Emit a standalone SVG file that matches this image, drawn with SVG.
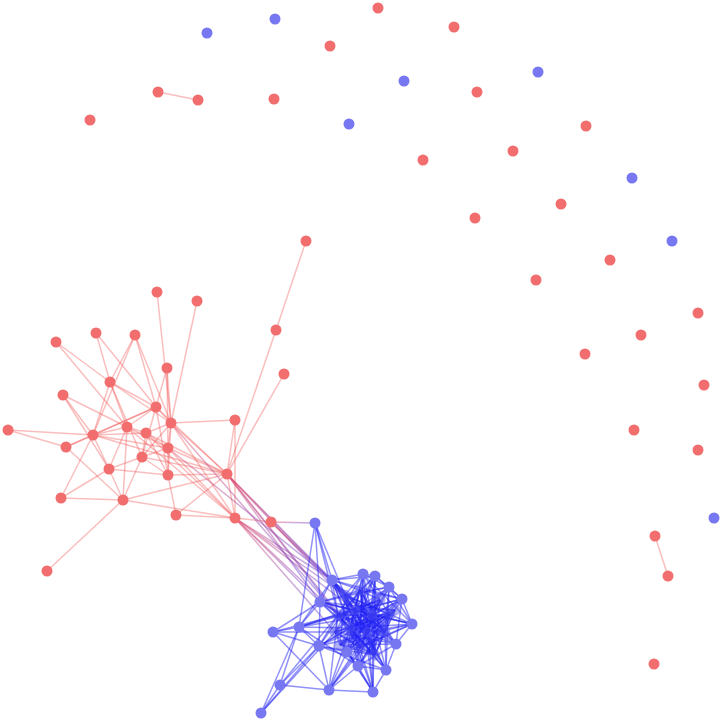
<svg xmlns="http://www.w3.org/2000/svg" width="722" height="722" viewBox="0 0 722 722">
<style>
.r{fill:#f26e6e}
.b{fill:#7777f2}
.b .bi circle{fill:#5050ee;fill-opacity:.45}
.er line{stroke:#f24c4c;stroke-opacity:.36;stroke-width:1.5}
.eb line{stroke:#2323f5;stroke-opacity:.5;stroke-width:1.5}
.ep line{stroke:url(#rb);stroke-opacity:.45;stroke-width:1.5}
</style>
<defs>
<linearGradient id="rb" x1="0" y1="0" x2="1" y2="1">
<stop offset="0" stop-color="#e04a6a"/>
<stop offset="1" stop-color="#5a3adc"/>
</linearGradient>
</defs>
<rect width="722" height="722" fill="#fff"/>
<g id="connectors">
<g class="er">
<line x1="158" y1="92" x2="198" y2="100"/>
<line x1="655" y1="536" x2="668" y2="576"/>
<line x1="157" y1="292" x2="171" y2="423"/>
<line x1="197" y1="301" x2="171" y2="423"/>
<line x1="96" y1="333" x2="110" y2="382"/>
<line x1="96" y1="333" x2="156" y2="407"/>
<line x1="135" y1="335" x2="110" y2="382"/>
<line x1="135" y1="335" x2="156" y2="407"/>
<line x1="135" y1="335" x2="171" y2="423"/>
<line x1="135" y1="335" x2="93" y2="435"/>
<line x1="56" y1="342" x2="110" y2="382"/>
<line x1="56" y1="342" x2="127" y2="427"/>
<line x1="306" y1="241" x2="276" y2="330"/>
<line x1="276" y1="330" x2="227" y2="474"/>
<line x1="284" y1="374" x2="227" y2="474"/>
<line x1="167" y1="368" x2="171" y2="423"/>
<line x1="167" y1="368" x2="156" y2="407"/>
<line x1="167" y1="368" x2="168" y2="448"/>
<line x1="110" y1="382" x2="127" y2="427"/>
<line x1="110" y1="382" x2="93" y2="435"/>
<line x1="110" y1="382" x2="156" y2="407"/>
<line x1="110" y1="382" x2="142" y2="457"/>
<line x1="110" y1="382" x2="171" y2="423"/>
<line x1="63" y1="395" x2="127" y2="427"/>
<line x1="63" y1="395" x2="93" y2="435"/>
<line x1="63" y1="395" x2="109" y2="469"/>
<line x1="156" y1="407" x2="171" y2="423"/>
<line x1="156" y1="407" x2="127" y2="427"/>
<line x1="156" y1="407" x2="93" y2="435"/>
<line x1="156" y1="407" x2="142" y2="457"/>
<line x1="156" y1="407" x2="168" y2="475"/>
<line x1="156" y1="407" x2="227" y2="474"/>
<line x1="156" y1="407" x2="66" y2="447"/>
<line x1="171" y1="423" x2="235" y2="420"/>
<line x1="171" y1="423" x2="168" y2="448"/>
<line x1="171" y1="423" x2="227" y2="474"/>
<line x1="171" y1="423" x2="235" y2="518"/>
<line x1="171" y1="423" x2="168" y2="475"/>
<line x1="171" y1="423" x2="146" y2="433"/>
<line x1="171" y1="423" x2="142" y2="457"/>
<line x1="235" y1="420" x2="227" y2="474"/>
<line x1="235" y1="420" x2="235" y2="518"/>
<line x1="127" y1="427" x2="93" y2="435"/>
<line x1="127" y1="427" x2="146" y2="433"/>
<line x1="127" y1="427" x2="168" y2="448"/>
<line x1="127" y1="427" x2="109" y2="469"/>
<line x1="127" y1="427" x2="123" y2="500"/>
<line x1="127" y1="427" x2="235" y2="518"/>
<line x1="8" y1="430" x2="93" y2="435"/>
<line x1="8" y1="430" x2="66" y2="447"/>
<line x1="93" y1="435" x2="146" y2="433"/>
<line x1="93" y1="435" x2="66" y2="447"/>
<line x1="93" y1="435" x2="61" y2="498"/>
<line x1="93" y1="435" x2="109" y2="469"/>
<line x1="93" y1="435" x2="227" y2="474"/>
<line x1="93" y1="435" x2="168" y2="448"/>
<line x1="146" y1="433" x2="168" y2="448"/>
<line x1="146" y1="433" x2="142" y2="457"/>
<line x1="146" y1="433" x2="227" y2="474"/>
<line x1="146" y1="433" x2="168" y2="475"/>
<line x1="146" y1="433" x2="235" y2="518"/>
<line x1="66" y1="447" x2="123" y2="500"/>
<line x1="168" y1="448" x2="142" y2="457"/>
<line x1="168" y1="448" x2="168" y2="475"/>
<line x1="168" y1="448" x2="227" y2="474"/>
<line x1="168" y1="448" x2="235" y2="518"/>
<line x1="142" y1="457" x2="109" y2="469"/>
<line x1="142" y1="457" x2="123" y2="500"/>
<line x1="142" y1="457" x2="227" y2="474"/>
<line x1="142" y1="457" x2="168" y2="475"/>
<line x1="109" y1="469" x2="123" y2="500"/>
<line x1="109" y1="469" x2="168" y2="475"/>
<line x1="109" y1="469" x2="61" y2="498"/>
<line x1="168" y1="475" x2="227" y2="474"/>
<line x1="168" y1="475" x2="176" y2="515"/>
<line x1="227" y1="474" x2="123" y2="500"/>
<line x1="227" y1="474" x2="176" y2="515"/>
<line x1="227" y1="474" x2="235" y2="518"/>
<line x1="61" y1="498" x2="123" y2="500"/>
<line x1="123" y1="500" x2="47" y2="571"/>
<line x1="123" y1="500" x2="235" y2="518"/>
<line x1="176" y1="515" x2="235" y2="518"/>
<line x1="235" y1="518" x2="271" y2="522"/>
</g>
<g class="ep">
<line x1="271" y1="522" x2="315" y2="523"/>
<line x1="227" y1="474" x2="332" y2="580"/>
<line x1="227" y1="474" x2="320" y2="602"/>
<line x1="227" y1="474" x2="345" y2="595"/>
<line x1="227" y1="474" x2="338" y2="615"/>
<line x1="227" y1="474" x2="355" y2="610"/>
<line x1="227" y1="474" x2="350" y2="628"/>
<line x1="235" y1="518" x2="332" y2="580"/>
<line x1="235" y1="518" x2="320" y2="602"/>
<line x1="235" y1="518" x2="345" y2="595"/>
<line x1="235" y1="518" x2="338" y2="615"/>
<line x1="235" y1="518" x2="335" y2="632"/>
<line x1="235" y1="518" x2="355" y2="610"/>
<line x1="271" y1="522" x2="332" y2="580"/>
<line x1="271" y1="522" x2="345" y2="595"/>
<line x1="168" y1="448" x2="332" y2="580"/>
<line x1="171" y1="423" x2="338" y2="615"/>
</g>
<g class="eb">
<line x1="332" y1="580" x2="363" y2="574"/>
<line x1="332" y1="580" x2="375" y2="576"/>
<line x1="332" y1="580" x2="345" y2="595"/>
<line x1="332" y1="580" x2="360" y2="590"/>
<line x1="332" y1="580" x2="338" y2="615"/>
<line x1="332" y1="580" x2="355" y2="610"/>
<line x1="332" y1="580" x2="372" y2="615"/>
<line x1="332" y1="580" x2="350" y2="628"/>
<line x1="332" y1="580" x2="385" y2="632"/>
<line x1="332" y1="580" x2="375" y2="655"/>
<line x1="332" y1="580" x2="386" y2="670"/>
<line x1="332" y1="580" x2="402" y2="599"/>
<line x1="332" y1="580" x2="396" y2="644"/>
<line x1="332" y1="580" x2="299" y2="627"/>
<line x1="332" y1="580" x2="320" y2="602"/>
<line x1="363" y1="574" x2="375" y2="576"/>
<line x1="363" y1="574" x2="389" y2="587"/>
<line x1="363" y1="574" x2="345" y2="595"/>
<line x1="363" y1="574" x2="380" y2="600"/>
<line x1="363" y1="574" x2="355" y2="610"/>
<line x1="363" y1="574" x2="368" y2="632"/>
<line x1="363" y1="574" x2="360" y2="648"/>
<line x1="363" y1="574" x2="358" y2="666"/>
<line x1="363" y1="574" x2="319" y2="646"/>
<line x1="363" y1="574" x2="412" y2="624"/>
<line x1="375" y1="576" x2="389" y2="587"/>
<line x1="375" y1="576" x2="402" y2="599"/>
<line x1="375" y1="576" x2="360" y2="590"/>
<line x1="375" y1="576" x2="338" y2="615"/>
<line x1="375" y1="576" x2="372" y2="615"/>
<line x1="375" y1="576" x2="350" y2="628"/>
<line x1="375" y1="576" x2="375" y2="655"/>
<line x1="375" y1="576" x2="347" y2="652"/>
<line x1="375" y1="576" x2="373" y2="692"/>
<line x1="389" y1="587" x2="402" y2="599"/>
<line x1="389" y1="587" x2="412" y2="624"/>
<line x1="389" y1="587" x2="345" y2="595"/>
<line x1="389" y1="587" x2="355" y2="610"/>
<line x1="389" y1="587" x2="335" y2="632"/>
<line x1="389" y1="587" x2="385" y2="632"/>
<line x1="389" y1="587" x2="360" y2="648"/>
<line x1="389" y1="587" x2="386" y2="670"/>
<line x1="389" y1="587" x2="320" y2="602"/>
<line x1="402" y1="599" x2="412" y2="624"/>
<line x1="402" y1="599" x2="396" y2="644"/>
<line x1="402" y1="599" x2="360" y2="590"/>
<line x1="402" y1="599" x2="338" y2="615"/>
<line x1="402" y1="599" x2="368" y2="632"/>
<line x1="402" y1="599" x2="340" y2="645"/>
<line x1="402" y1="599" x2="358" y2="666"/>
<line x1="402" y1="599" x2="299" y2="627"/>
<line x1="412" y1="624" x2="396" y2="644"/>
<line x1="412" y1="624" x2="345" y2="595"/>
<line x1="412" y1="624" x2="372" y2="615"/>
<line x1="412" y1="624" x2="350" y2="628"/>
<line x1="412" y1="624" x2="360" y2="648"/>
<line x1="412" y1="624" x2="347" y2="652"/>
<line x1="412" y1="624" x2="319" y2="646"/>
<line x1="412" y1="624" x2="320" y2="602"/>
<line x1="396" y1="644" x2="386" y2="670"/>
<line x1="396" y1="644" x2="360" y2="590"/>
<line x1="396" y1="644" x2="355" y2="610"/>
<line x1="396" y1="644" x2="335" y2="632"/>
<line x1="396" y1="644" x2="340" y2="645"/>
<line x1="396" y1="644" x2="358" y2="666"/>
<line x1="396" y1="644" x2="320" y2="602"/>
<line x1="386" y1="670" x2="373" y2="692"/>
<line x1="386" y1="670" x2="358" y2="666"/>
<line x1="386" y1="670" x2="338" y2="615"/>
<line x1="386" y1="670" x2="350" y2="628"/>
<line x1="386" y1="670" x2="385" y2="632"/>
<line x1="386" y1="670" x2="319" y2="646"/>
<line x1="386" y1="670" x2="345" y2="595"/>
<line x1="373" y1="692" x2="358" y2="666"/>
<line x1="373" y1="692" x2="347" y2="652"/>
<line x1="373" y1="692" x2="372" y2="615"/>
<line x1="373" y1="692" x2="335" y2="632"/>
<line x1="373" y1="692" x2="368" y2="632"/>
<line x1="373" y1="692" x2="329" y2="690"/>
<line x1="373" y1="692" x2="360" y2="590"/>
<line x1="358" y1="666" x2="347" y2="652"/>
<line x1="358" y1="666" x2="329" y2="690"/>
<line x1="358" y1="666" x2="355" y2="610"/>
<line x1="358" y1="666" x2="390" y2="615"/>
<line x1="358" y1="666" x2="385" y2="632"/>
<line x1="358" y1="666" x2="299" y2="627"/>
<line x1="347" y1="652" x2="329" y2="690"/>
<line x1="347" y1="652" x2="319" y2="646"/>
<line x1="347" y1="652" x2="380" y2="600"/>
<line x1="347" y1="652" x2="372" y2="615"/>
<line x1="347" y1="652" x2="395" y2="610"/>
<line x1="329" y1="690" x2="319" y2="646"/>
<line x1="329" y1="690" x2="338" y2="615"/>
<line x1="329" y1="690" x2="350" y2="628"/>
<line x1="329" y1="690" x2="360" y2="648"/>
<line x1="329" y1="690" x2="390" y2="615"/>
<line x1="319" y1="646" x2="299" y2="627"/>
<line x1="319" y1="646" x2="320" y2="602"/>
<line x1="319" y1="646" x2="360" y2="590"/>
<line x1="319" y1="646" x2="390" y2="615"/>
<line x1="319" y1="646" x2="375" y2="655"/>
<line x1="299" y1="627" x2="320" y2="602"/>
<line x1="299" y1="627" x2="338" y2="615"/>
<line x1="299" y1="627" x2="350" y2="628"/>
<line x1="299" y1="627" x2="380" y2="600"/>
<line x1="299" y1="627" x2="372" y2="615"/>
<line x1="320" y1="602" x2="345" y2="595"/>
<line x1="320" y1="602" x2="355" y2="610"/>
<line x1="320" y1="602" x2="368" y2="632"/>
<line x1="320" y1="602" x2="395" y2="610"/>
<line x1="320" y1="602" x2="375" y2="655"/>
<line x1="345" y1="595" x2="360" y2="590"/>
<line x1="345" y1="595" x2="390" y2="615"/>
<line x1="345" y1="595" x2="368" y2="632"/>
<line x1="345" y1="595" x2="340" y2="645"/>
<line x1="360" y1="590" x2="372" y2="615"/>
<line x1="360" y1="590" x2="335" y2="632"/>
<line x1="360" y1="590" x2="375" y2="655"/>
<line x1="380" y1="600" x2="338" y2="615"/>
<line x1="380" y1="600" x2="350" y2="628"/>
<line x1="380" y1="600" x2="360" y2="648"/>
<line x1="380" y1="600" x2="340" y2="645"/>
<line x1="338" y1="615" x2="390" y2="615"/>
<line x1="338" y1="615" x2="385" y2="632"/>
<line x1="338" y1="615" x2="375" y2="655"/>
<line x1="355" y1="610" x2="335" y2="632"/>
<line x1="355" y1="610" x2="385" y2="632"/>
<line x1="355" y1="610" x2="395" y2="610"/>
<line x1="372" y1="615" x2="340" y2="645"/>
<line x1="372" y1="615" x2="375" y2="655"/>
<line x1="390" y1="615" x2="335" y2="632"/>
<line x1="390" y1="615" x2="375" y2="655"/>
<line x1="335" y1="632" x2="360" y2="648"/>
<line x1="335" y1="632" x2="395" y2="610"/>
<line x1="350" y1="628" x2="395" y2="610"/>
<line x1="368" y1="632" x2="340" y2="645"/>
<line x1="385" y1="632" x2="340" y2="645"/>
<line x1="345" y1="595" x2="355" y2="610"/>
<line x1="345" y1="595" x2="372" y2="615"/>
<line x1="345" y1="595" x2="350" y2="628"/>
<line x1="345" y1="595" x2="385" y2="632"/>
<line x1="345" y1="595" x2="360" y2="648"/>
<line x1="360" y1="590" x2="380" y2="600"/>
<line x1="360" y1="590" x2="355" y2="610"/>
<line x1="360" y1="590" x2="350" y2="628"/>
<line x1="360" y1="590" x2="368" y2="632"/>
<line x1="360" y1="590" x2="385" y2="632"/>
<line x1="380" y1="600" x2="355" y2="610"/>
<line x1="380" y1="600" x2="372" y2="615"/>
<line x1="380" y1="600" x2="390" y2="615"/>
<line x1="380" y1="600" x2="368" y2="632"/>
<line x1="380" y1="600" x2="375" y2="655"/>
<line x1="338" y1="615" x2="355" y2="610"/>
<line x1="338" y1="615" x2="372" y2="615"/>
<line x1="338" y1="615" x2="335" y2="632"/>
<line x1="338" y1="615" x2="350" y2="628"/>
<line x1="338" y1="615" x2="368" y2="632"/>
<line x1="338" y1="615" x2="360" y2="648"/>
<line x1="355" y1="610" x2="372" y2="615"/>
<line x1="355" y1="610" x2="350" y2="628"/>
<line x1="355" y1="610" x2="368" y2="632"/>
<line x1="355" y1="610" x2="360" y2="648"/>
<line x1="355" y1="610" x2="375" y2="655"/>
<line x1="372" y1="615" x2="390" y2="615"/>
<line x1="372" y1="615" x2="350" y2="628"/>
<line x1="372" y1="615" x2="368" y2="632"/>
<line x1="372" y1="615" x2="385" y2="632"/>
<line x1="372" y1="615" x2="360" y2="648"/>
<line x1="390" y1="615" x2="350" y2="628"/>
<line x1="390" y1="615" x2="368" y2="632"/>
<line x1="390" y1="615" x2="385" y2="632"/>
<line x1="390" y1="615" x2="360" y2="648"/>
<line x1="390" y1="615" x2="395" y2="610"/>
<line x1="335" y1="632" x2="350" y2="628"/>
<line x1="335" y1="632" x2="368" y2="632"/>
<line x1="335" y1="632" x2="375" y2="655"/>
<line x1="335" y1="632" x2="340" y2="645"/>
<line x1="350" y1="628" x2="368" y2="632"/>
<line x1="350" y1="628" x2="385" y2="632"/>
<line x1="350" y1="628" x2="360" y2="648"/>
<line x1="350" y1="628" x2="375" y2="655"/>
<line x1="350" y1="628" x2="340" y2="645"/>
<line x1="368" y1="632" x2="385" y2="632"/>
<line x1="368" y1="632" x2="360" y2="648"/>
<line x1="368" y1="632" x2="375" y2="655"/>
<line x1="385" y1="632" x2="360" y2="648"/>
<line x1="385" y1="632" x2="375" y2="655"/>
<line x1="385" y1="632" x2="395" y2="610"/>
<line x1="360" y1="648" x2="375" y2="655"/>
<line x1="360" y1="648" x2="340" y2="645"/>
<line x1="375" y1="655" x2="340" y2="645"/>
<line x1="375" y1="655" x2="395" y2="610"/>
<line x1="340" y1="645" x2="395" y2="610"/>
<line x1="368" y1="632" x2="395" y2="610"/>
<line x1="363" y1="574" x2="372" y2="615"/>
<line x1="363" y1="574" x2="350" y2="628"/>
<line x1="375" y1="576" x2="355" y2="610"/>
<line x1="375" y1="576" x2="368" y2="632"/>
<line x1="389" y1="587" x2="372" y2="615"/>
<line x1="389" y1="587" x2="350" y2="628"/>
<line x1="402" y1="599" x2="372" y2="615"/>
<line x1="402" y1="599" x2="350" y2="628"/>
<line x1="412" y1="624" x2="368" y2="632"/>
<line x1="412" y1="624" x2="355" y2="610"/>
<line x1="396" y1="644" x2="372" y2="615"/>
<line x1="396" y1="644" x2="350" y2="628"/>
<line x1="386" y1="670" x2="372" y2="615"/>
<line x1="386" y1="670" x2="355" y2="610"/>
<line x1="373" y1="692" x2="350" y2="628"/>
<line x1="373" y1="692" x2="360" y2="648"/>
<line x1="358" y1="666" x2="350" y2="628"/>
<line x1="358" y1="666" x2="372" y2="615"/>
<line x1="347" y1="652" x2="368" y2="632"/>
<line x1="347" y1="652" x2="355" y2="610"/>
<line x1="329" y1="690" x2="368" y2="632"/>
<line x1="319" y1="646" x2="350" y2="628"/>
<line x1="319" y1="646" x2="372" y2="615"/>
<line x1="320" y1="602" x2="350" y2="628"/>
<line x1="320" y1="602" x2="372" y2="615"/>
<line x1="332" y1="580" x2="368" y2="632"/>
<line x1="332" y1="580" x2="360" y2="648"/>
<line x1="273" y1="632" x2="299" y2="627"/>
<line x1="273" y1="632" x2="320" y2="602"/>
<line x1="273" y1="632" x2="319" y2="646"/>
<line x1="273" y1="632" x2="338" y2="615"/>
<line x1="273" y1="632" x2="335" y2="632"/>
<line x1="273" y1="632" x2="329" y2="690"/>
<line x1="280" y1="685" x2="299" y2="627"/>
<line x1="280" y1="685" x2="319" y2="646"/>
<line x1="280" y1="685" x2="329" y2="690"/>
<line x1="280" y1="685" x2="338" y2="615"/>
<line x1="261" y1="713" x2="280" y2="685"/>
<line x1="261" y1="713" x2="319" y2="646"/>
<line x1="261" y1="713" x2="335" y2="632"/>
<line x1="261" y1="713" x2="299" y2="627"/>
<line x1="315" y1="523" x2="332" y2="580"/>
<line x1="315" y1="523" x2="320" y2="602"/>
<line x1="315" y1="523" x2="345" y2="595"/>
<line x1="315" y1="523" x2="338" y2="615"/>
<line x1="315" y1="523" x2="299" y2="627"/>
</g>
</g>
<g id="nodes-red" class="r">
<g id="r1"><circle cx="157" cy="292" r="5.5"/></g>
<g id="r2"><circle cx="197" cy="301" r="5.5"/></g>
<g id="r3"><circle cx="96" cy="333" r="5.5"/></g>
<g id="r4"><circle cx="135" cy="335" r="5.5"/></g>
<g id="r5"><circle cx="56" cy="342" r="5.5"/></g>
<g id="r6"><circle cx="276" cy="330" r="5.5"/></g>
<g id="r7"><circle cx="284" cy="374" r="5.5"/></g>
<g id="r8"><circle cx="167" cy="368" r="5.5"/></g>
<g id="r9"><circle cx="110" cy="382" r="5.5"/></g>
<g id="r10"><circle cx="63" cy="395" r="5.5"/></g>
<g id="r11"><circle cx="156" cy="407" r="5.5"/></g>
<g id="r12"><circle cx="171" cy="423" r="5.5"/></g>
<g id="r13"><circle cx="235" cy="420" r="5.5"/></g>
<g id="r14"><circle cx="127" cy="427" r="5.5"/></g>
<g id="r15"><circle cx="8" cy="430" r="5.5"/></g>
<g id="r16"><circle cx="93" cy="435" r="5.5"/></g>
<g id="r17"><circle cx="146" cy="433" r="5.5"/></g>
<g id="r18"><circle cx="66" cy="447" r="5.5"/></g>
<g id="r19"><circle cx="168" cy="448" r="5.5"/></g>
<g id="r20"><circle cx="142" cy="457" r="5.5"/></g>
<g id="r21"><circle cx="109" cy="469" r="5.5"/></g>
<g id="r22"><circle cx="168" cy="475" r="5.5"/></g>
<g id="r23"><circle cx="227" cy="474" r="5.5"/></g>
<g id="r24"><circle cx="61" cy="498" r="5.5"/></g>
<g id="r25"><circle cx="123" cy="500" r="5.5"/></g>
<g id="r26"><circle cx="176" cy="515" r="5.5"/></g>
<g id="r27"><circle cx="235" cy="518" r="5.5"/></g>
<g id="r28"><circle cx="271" cy="522" r="5.5"/></g>
<g id="r29"><circle cx="47" cy="571" r="5.5"/></g>
<g id="r30"><circle cx="306" cy="241" r="5.5"/></g>
<g id="r31"><circle cx="378" cy="8" r="5.5"/></g>
<g id="r32"><circle cx="454" cy="27" r="5.5"/></g>
<g id="r33"><circle cx="330" cy="46" r="5.5"/></g>
<g id="r34"><circle cx="158" cy="92" r="5.5"/></g>
<g id="r35"><circle cx="198" cy="100" r="5.5"/></g>
<g id="r36"><circle cx="274" cy="99" r="5.5"/></g>
<g id="r37"><circle cx="90" cy="120" r="5.5"/></g>
<g id="r38"><circle cx="477" cy="92" r="5.5"/></g>
<g id="r39"><circle cx="586" cy="126" r="5.5"/></g>
<g id="r40"><circle cx="513" cy="151" r="5.5"/></g>
<g id="r41"><circle cx="423" cy="160" r="5.5"/></g>
<g id="r42"><circle cx="475" cy="218" r="5.5"/></g>
<g id="r43"><circle cx="561" cy="204" r="5.5"/></g>
<g id="r44"><circle cx="610" cy="260" r="5.5"/></g>
<g id="r45"><circle cx="536" cy="280" r="5.5"/></g>
<g id="r46"><circle cx="698" cy="313" r="5.5"/></g>
<g id="r47"><circle cx="641" cy="335" r="5.5"/></g>
<g id="r48"><circle cx="585" cy="354" r="5.5"/></g>
<g id="r49"><circle cx="704" cy="385" r="5.5"/></g>
<g id="r50"><circle cx="634" cy="430" r="5.5"/></g>
<g id="r51"><circle cx="698" cy="450" r="5.5"/></g>
<g id="r52"><circle cx="655" cy="536" r="5.5"/></g>
<g id="r53"><circle cx="668" cy="576" r="5.5"/></g>
<g id="r54"><circle cx="654" cy="664" r="5.5"/></g>
</g>
<g id="nodes-blue" class="b">
<g id="b0"><circle cx="315" cy="523" r="5.5"/></g>
<g id="b1"><circle cx="332" cy="580" r="5.5"/></g>
<g id="b2"><circle cx="363" cy="574" r="5.5"/></g>
<g id="b3"><circle cx="375" cy="576" r="5.5"/></g>
<g id="b4"><circle cx="389" cy="587" r="5.5"/></g>
<g id="b5"><circle cx="402" cy="599" r="5.5"/></g>
<g id="b6"><circle cx="412" cy="624" r="5.5"/></g>
<g id="b7"><circle cx="396" cy="644" r="5.5"/></g>
<g id="b8"><circle cx="386" cy="670" r="5.5"/></g>
<g id="b9"><circle cx="373" cy="692" r="5.5"/></g>
<g id="b10"><circle cx="358" cy="666" r="5.5"/></g>
<g id="b11"><circle cx="347" cy="652" r="5.5"/></g>
<g id="b12"><circle cx="329" cy="690" r="5.5"/></g>
<g id="b13"><circle cx="319" cy="646" r="5.5"/></g>
<g id="b14"><circle cx="299" cy="627" r="5.5"/></g>
<g id="b15"><circle cx="273" cy="632" r="5.5"/></g>
<g id="b16"><circle cx="280" cy="685" r="5.5"/></g>
<g id="b17"><circle cx="261" cy="713" r="5.5"/></g>
<g id="b18"><circle cx="320" cy="602" r="5.5"/></g>
<g id="b19" class="bi"><circle cx="345" cy="595" r="5.5"/></g>
<g id="b20" class="bi"><circle cx="360" cy="590" r="5.5"/></g>
<g id="b21" class="bi"><circle cx="380" cy="600" r="5.5"/></g>
<g id="b22" class="bi"><circle cx="338" cy="615" r="5.5"/></g>
<g id="b23" class="bi"><circle cx="355" cy="610" r="5.5"/></g>
<g id="b24" class="bi"><circle cx="372" cy="615" r="5.5"/></g>
<g id="b25" class="bi"><circle cx="390" cy="615" r="5.5"/></g>
<g id="b26" class="bi"><circle cx="335" cy="632" r="5.5"/></g>
<g id="b27" class="bi"><circle cx="350" cy="628" r="5.5"/></g>
<g id="b28" class="bi"><circle cx="368" cy="632" r="5.5"/></g>
<g id="b29" class="bi"><circle cx="385" cy="632" r="5.5"/></g>
<g id="b30" class="bi"><circle cx="360" cy="648" r="5.5"/></g>
<g id="b31" class="bi"><circle cx="375" cy="655" r="5.5"/></g>
<g id="b32" class="bi"><circle cx="340" cy="645" r="5.5"/></g>
<g id="b33" class="bi"><circle cx="395" cy="610" r="5.5"/></g>
<g id="b34"><circle cx="207" cy="33" r="5.5"/></g>
<g id="b35"><circle cx="275" cy="19" r="5.5"/></g>
<g id="b36"><circle cx="404" cy="81" r="5.5"/></g>
<g id="b37"><circle cx="349" cy="124" r="5.5"/></g>
<g id="b38"><circle cx="538" cy="72" r="5.5"/></g>
<g id="b39"><circle cx="632" cy="178" r="5.5"/></g>
<g id="b40"><circle cx="672" cy="241" r="5.5"/></g>
<g id="b41"><circle cx="714" cy="518" r="5.5"/></g>
</g>
</svg>
